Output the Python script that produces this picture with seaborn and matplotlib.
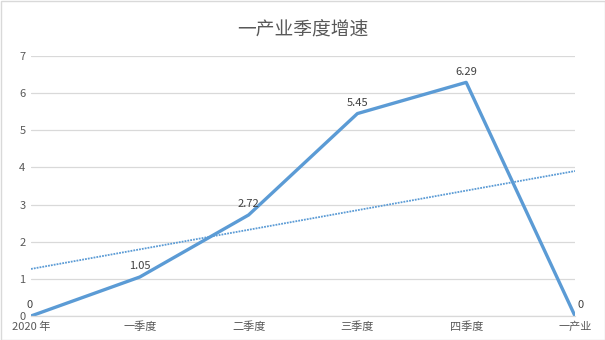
import numpy as np
import pandas as pd
import matplotlib
matplotlib.use("Agg")
import matplotlib.pyplot as plt
import seaborn as sns
from matplotlib.patches import Rectangle

categories = ["2020 年", "一季度", "二季度", "三季度", "四季度", "一产业"]
values = [0, 1.05, 2.72, 5.45, 6.29, 0]
label_texts = ["0", "1.05", "2.72", "5.45", "6.29", "0"]
yticks = [0, 1, 2, 3, 4, 5, 6, 7]
title = "一产业季度增速"

sns.set_theme(style="white")
plt.rcParams['font.family'] = ['Noto Sans CJK SC', 'DejaVu Sans']

df = pd.DataFrame({"pos": np.arange(len(categories)), "cat": categories, "val": values})

fig = plt.figure(figsize=(6.05, 3.4), dpi=100)
ax = fig.add_axes([31/605, 1-316/340, (575-31)/605, (316-56)/340])

blue = "#5B9BD5"
sns.regplot(data=df, x="pos", y="val", ax=ax, scatter=False, ci=None,
            line_kws=dict(color=blue, lw=1.3, ls=(0, (1, 0.6))))
sns.lineplot(data=df, x="pos", y="val", ax=ax, color=blue, lw=2.4, sort=False)

ax.set_xlim(0, len(categories) - 1)
ax.set_ylim(0, 7)
ax.set_yticks(yticks)
ax.set_yticklabels([str(t) for t in yticks])
ax.set_xticks(df["pos"])
ax.set_xticklabels(categories)
ax.tick_params(axis="both", length=0, labelsize=8, colors="#595959")
ax.tick_params(axis="y", pad=4)
ax.tick_params(axis="x", pad=4)
ax.set_xlabel("")
ax.set_ylabel("")
ax.grid(axis="y", color="#D9D9D9", lw=0.9)
ax.set_axisbelow(True)
for s in ["top", "right", "left"]:
    ax.spines[s].set_visible(False)
ax.spines["bottom"].set_color("#D9D9D9")
ax.spines["bottom"].set_linewidth(0.9)

n = len(categories)
for i, (v, t) in enumerate(zip(values, label_texts)):
    dx = 0
    if i == 0:
        dx = -1
    if i == n - 1:
        dx = 4
    ax.annotate(t, (i, v), xytext=(dx, 4), textcoords="offset points",
                ha="center", va="bottom", fontsize=8, color="#404040", annotation_clip=False)

fig.text(0.5, 1 - 30/340, title, ha="center", va="center", fontsize=13.5, color="#595959")
fig.patches.append(Rectangle((0.5/605, 0.5/340), 1 - 1/605, 1 - 1/340, transform=fig.transFigure,
                             fill=False, edgecolor="#D9D9D9", lw=1))
fig.savefig("out.png", dpi=100, facecolor="white")
